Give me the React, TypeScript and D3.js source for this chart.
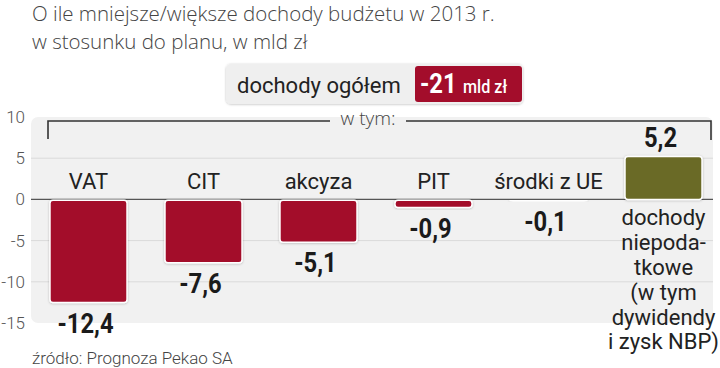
import React from "react";
import * as d3 from "d3";

const categories = ["VAT", "CIT", "akcyza", "PIT", "środki z UE", "dochody niepodatkowe"];
const values = [-12.4, -7.6, -5.1, -0.9, -0.1, 5.2];
const valueLabels = ["-12,4", "-7,6", "-5,1", "-0,9", "-0,1", "5,2"];
const categoryLines = [["VAT"], ["CIT"], ["akcyza"], ["PIT"], ["środki z UE"], ["dochody", "niepoda-", "tkowe", "(w tym", "dywidendy", "i zysk NBP)"]];
const yTicks = [10, 5, 0, -5, -10, -15];
const gridTicks = [5, -5, -10];
const titleLines = ["O ile mniejsze/większe dochody budżetu w 2013 r.", "w stosunku do planu, w mld zł"];
const totalLabel = "dochody ogółem";
const totalValue = "-21";
const totalUnit = "mld zł";
const sourceText = "źródło: Prognoza Pekao SA";

const W = 720;
const H = 368;
const RED = "#a30d2b";
const OLIVE = "#6b6a26";

export default function App() {
  const y = d3.scaleLinear().domain([10, -15]).range([117, 323]);
  const x = d3.scaleBand<string>().domain(categories).range([31, 721]).paddingInner(0.33).paddingOuter(0.165);
  const bw = x.bandwidth();
  const panelX0 = 31, panelX1 = 713;

  return (
    <svg width={W} height={H} style={{ position: "absolute", left: 0, top: 0, background: "#fff" }}>
      <defs>
        <filter id="sh" x="-20%" y="-20%" width="140%" height="140%">
          <feDropShadow dx="0" dy="0.5" stdDeviation="1" floodColor="#000" floodOpacity="0.25" />
        </filter>
      </defs>
      <rect x={0} y={0} width={W} height={H} fill="#fff" />
      {titleLines.map((t, i) => (
        <text key={i} x={32} y={21 + i * 28} fontFamily="'Open Sans'" fontWeight={300} fontSize={20.5} fill="#444">{t}</text>
      ))}
      {/* panel */}
      <rect x={panelX0} y={y(10)} width={panelX1 - panelX0} height={y(-15) - y(10)} rx={7} fill="#f1f1f1" />
      {gridTicks.map((t) => (
        <line key={t} x1={panelX0} x2={panelX1} y1={y(t)} y2={y(t)} stroke="#dadada" strokeWidth={1} />
      ))}
      <line x1={panelX0} x2={panelX1} y1={y(0)} y2={y(0)} stroke="#555" strokeWidth={1.2} />
      {yTicks.map((t) => (
        <text key={t} x={25} y={y(t) + 6} textAnchor="end" fontFamily="Roboto" fontWeight={300} fontSize={17} fill="#555">{t}</text>
      ))}
      {/* total box */}
      <rect x={226} y={64} width={297} height={40} rx={5} fill="#efefef" filter="url(#sh)" />
      <rect x={415} y={66} width={107} height={36} rx={3} fill={RED} />
      <text x={237} y={93} fontFamily="Roboto" fontSize={22} fill="#222">{totalLabel}</text>
      <text transform="translate(420,93) scale(0.85,1)" fontFamily="Roboto" fontWeight={700} fontSize={28} fill="#fff">{totalValue}</text>
      <text transform="translate(463,93) scale(0.85,1)" fontFamily="Roboto" fontWeight={500} fontSize={19} fill="#fff">{totalUnit}</text>
      {/* bracket */}
      <path d={`M48,139V121H330M406,121H711V140`} fill="none" stroke="#333" strokeWidth={1.6} />
      <text x={368} y={125} textAnchor="middle" fontFamily="'Open Sans'" fontWeight={300} fontSize={19} fill="#444">w tym:</text>
      {/* bars */}
      {categories.map((c, i) => {
        const v = values[i];
        const x0 = x(c)!;
        const cx = x0 + bw / 2;
        const top = y(Math.max(0, v));
        const bot = y(Math.min(0, v));
        const h = Math.max(bot - top, 0.8);
        const lines = categoryLines[i];
        return (
          <g key={c}>
            <rect x={x0} y={v < 0 ? top + 0.8 : top} width={bw} height={h} rx={3} fill={v < 0 ? RED : OLIVE} stroke="#fff" strokeWidth={1.5} filter="url(#sh)" />
            {v < 0 ? (
              <text x={cx} y={y(0) - 10} textAnchor="middle" fontFamily="Roboto" fontSize={22} fill="#222">{lines[0]}</text>
            ) : (
              lines.map((l, j) => (
                <text key={j} x={cx} y={y(0) + 26 + j * 24.8} textAnchor="middle" fontFamily="Roboto" fontSize={22} fill="#222">{l}</text>
              ))
            )}
            <text transform={`translate(${cx - 3},${v < 0 ? bot + 31 : top - 10}) scale(0.85,1)`} textAnchor="middle" fontFamily="Roboto" fontWeight={700} fontSize={28} fill="#1a1a1a">{valueLabels[i]}</text>
          </g>
        );
      })}
      <text x={32} y={364} fontFamily="Roboto" fontWeight={300} fontSize={17} fill="#444">{sourceText}</text>
    </svg>
  );
}
